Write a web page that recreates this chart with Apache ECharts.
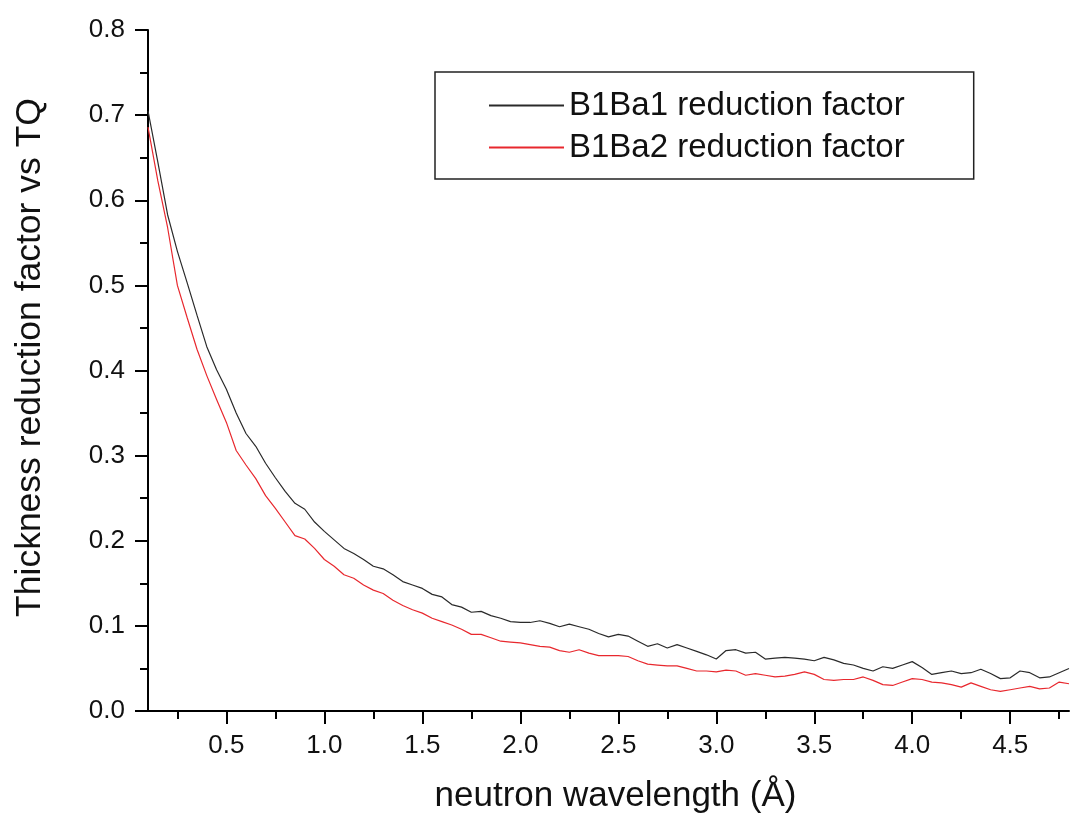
<!DOCTYPE html>
<html>
<head>
<meta charset="utf-8">
<script src="https://cdn.jsdelivr.net/npm/echarts@6/dist/echarts.min.js"></script>
<style>
  html, body { margin: 0; padding: 0; background: #fff; }
  #chart { width: 1076px; height: 822px; }
</style>
</head>
<body>
<div id="chart"></div>
<script>
// neutron wavelength (Å)
const wavelength = [
  0.10, 0.15, 0.20, 0.25, 0.30, 0.35, 0.40, 0.45, 0.50, 0.55,
  0.60, 0.65, 0.70, 0.75, 0.80, 0.85, 0.90, 0.95, 1.00, 1.05,
  1.10, 1.15, 1.20, 1.25, 1.30, 1.35, 1.40, 1.45, 1.50, 1.55,
  1.60, 1.65, 1.70, 1.75, 1.80, 1.85, 1.90, 1.95, 2.00, 2.05,
  2.10, 2.15, 2.20, 2.25, 2.30, 2.35, 2.40, 2.45, 2.50, 2.55,
  2.60, 2.65, 2.70, 2.75, 2.80, 2.85, 2.90, 2.95, 3.00, 3.05,
  3.10, 3.15, 3.20, 3.25, 3.30, 3.35, 3.40, 3.45, 3.50, 3.55,
  3.60, 3.65, 3.70, 3.75, 3.80, 3.85, 3.90, 3.95, 4.00, 4.05,
  4.10, 4.15, 4.20, 4.25, 4.30, 4.35, 4.40, 4.45, 4.50, 4.55,
  4.60, 4.65, 4.70, 4.75, 4.80
];

const b1ba1 = [
  0.705, 0.645, 0.583, 0.540, 0.503, 0.465, 0.428, 0.401, 0.378, 0.350,
  0.326, 0.311, 0.291, 0.274, 0.258, 0.244, 0.237, 0.222, 0.211, 0.201,
  0.191, 0.185, 0.178, 0.170, 0.167, 0.160, 0.152, 0.148, 0.144, 0.137,
  0.134, 0.125, 0.122, 0.116, 0.117, 0.112, 0.109, 0.105, 0.104, 0.104,
  0.106, 0.103, 0.099, 0.102, 0.099, 0.096, 0.091, 0.087, 0.090, 0.088,
  0.082, 0.076, 0.079, 0.074, 0.078, 0.074, 0.070, 0.066, 0.061, 0.071,
  0.072, 0.068, 0.069, 0.061, 0.062, 0.063, 0.062, 0.061, 0.059, 0.063,
  0.060, 0.056, 0.054, 0.050, 0.047, 0.052, 0.050, 0.054, 0.058, 0.051,
  0.043, 0.045, 0.047, 0.044, 0.045, 0.049, 0.044, 0.038, 0.039, 0.047,
  0.045, 0.039, 0.040, 0.045, 0.050
];

const b1ba2 = [
  0.686, 0.623, 0.568, 0.500, 0.462, 0.425, 0.394, 0.366, 0.339, 0.306,
  0.289, 0.273, 0.253, 0.238, 0.222, 0.206, 0.202, 0.191, 0.178, 0.170,
  0.160, 0.156, 0.148, 0.142, 0.138, 0.130, 0.124, 0.119, 0.115, 0.109,
  0.105, 0.101, 0.096, 0.090, 0.090, 0.086, 0.082, 0.081, 0.080, 0.078,
  0.076, 0.075, 0.071, 0.069, 0.072, 0.068, 0.065, 0.065, 0.065, 0.064,
  0.059, 0.055, 0.054, 0.053, 0.053, 0.050, 0.047, 0.047, 0.046, 0.048,
  0.047, 0.042, 0.044, 0.042, 0.040, 0.041, 0.043, 0.046, 0.043, 0.037,
  0.036, 0.037, 0.037, 0.040, 0.036, 0.031, 0.030, 0.034, 0.038, 0.037,
  0.034, 0.033, 0.031, 0.028, 0.033, 0.029, 0.025, 0.023, 0.025, 0.027,
  0.029, 0.026, 0.027, 0.034, 0.032
];

const xMajorTicks = [0.5, 1.0, 1.5, 2.0, 2.5, 3.0, 3.5, 4.0, 4.5];
const xMinorTicks = [0.25, 0.75, 1.25, 1.75, 2.25, 2.75, 3.25, 3.75, 4.25, 4.75];

const seriesNames = ['B1Ba1 reduction factor', 'B1Ba2 reduction factor'];

const font = '"Liberation Sans", Arial, sans-serif';

const pairs = (ys) => wavelength.map((x, i) => [x, ys[i]]);

const chart = echarts.init(document.getElementById('chart'), null, { renderer: 'canvas' });

chart.setOption({
  animation: false,
  backgroundColor: '#fff',
  grid: { left: 148, right: 7, top: 30, bottom: 111 },
  legend: {
    left: 435,
    top: 72,
    orient: 'vertical',
    padding: [17, 69, 15, 53],
    borderColor: '#222',
    borderWidth: 1.5,
    itemWidth: 75,
    itemHeight: 20,
    itemGap: 9,
    itemTextGap: 10,
    itemStyle: { opacity: 0 },
    textStyle: { fontFamily: font, fontSize: 33, color: '#111', lineHeight: 32 },
    data: seriesNames
  },
  xAxis: [
    {
      type: 'value',
      min: 0.1,
      max: 4.8,
      name: 'neutron wavelength (Å)',
      nameLocation: 'middle',
      nameGap: 68,
      nameTextStyle: { fontFamily: font, fontSize: 35, color: '#111', padding: [0, 0, 0, 14] },
      axisLine: { lineStyle: { color: '#000', width: 2 } },
      axisTick: { length: 13, lineStyle: { width: 2, color: '#000' }, customValues: xMajorTicks },
      axisLabel: {
        customValues: xMajorTicks,
        margin: 22,
        fontFamily: font,
        fontSize: 26,
        color: '#111',
        formatter: (v) => v.toFixed(1)
      },
      splitLine: { show: false }
    },
    {
      // minor ticks only
      type: 'value',
      position: 'bottom',
      min: 0.1,
      max: 4.8,
      axisLine: { show: false },
      axisTick: { length: 8, lineStyle: { width: 2, color: '#000' }, customValues: xMinorTicks },
      axisLabel: { show: false },
      splitLine: { show: false }
    }
  ],
  yAxis: {
    type: 'value',
    min: 0,
    max: 0.8,
    interval: 0.1,
    name: 'Thickness reduction factor vs TQ',
    nameLocation: 'middle',
    nameGap: 100,
    nameTextStyle: { fontFamily: font, fontSize: 35.5, color: '#111', padding: [0, 0, 0, 26] },
    axisLine: { show: true, lineStyle: { color: '#000', width: 2 } },
    axisTick: { show: true, length: 13, lineStyle: { width: 2, color: '#000' } },
    minorTick: { show: true, splitNumber: 2, length: 8, lineStyle: { width: 2, color: '#000' } },
    axisLabel: {
      margin: 23,
      fontFamily: font,
      fontSize: 26,
      color: '#111',
      formatter: (v) => v.toFixed(1)
    },
    splitLine: { show: false }
  },
  series: [
    {
      name: seriesNames[0],
      type: 'line',
      data: pairs(b1ba1),
      showSymbol: false,
      symbol: 'none',
      lineStyle: { color: '#2a2a2a', width: 1.2 },
      itemStyle: { color: '#2a2a2a' }
    },
    {
      name: seriesNames[1],
      type: 'line',
      data: pairs(b1ba2),
      showSymbol: false,
      symbol: 'none',
      lineStyle: { color: '#e8282e', width: 1.2 },
      itemStyle: { color: '#e8282e' }
    }
  ]
});
</script>
</body>
</html>
